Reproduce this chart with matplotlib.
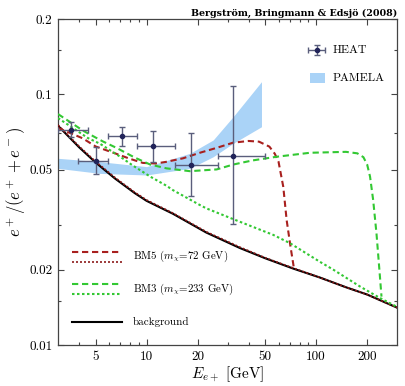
import numpy as np
import matplotlib
matplotlib.use("Agg")
import matplotlib.pyplot as plt
from matplotlib.ticker import FixedLocator, FixedFormatter, NullFormatter

plt.rcParams['font.family'] = ['cmr10', 'DejaVu Serif']
plt.rcParams['mathtext.fontset'] = 'cm'
plt.rcParams['axes.unicode_minus'] = False

# fond (background)
bg_x = [3, 4, 5, 6.5, 8.5, 10, 14.3, 22.5, 35.4, 50, 73, 105, 150, 200, 300]
bg_y = [0.0750, 0.0615, 0.0535, 0.0462, 0.0404, 0.0376, 0.0334, 0.0281, 0.0244,
        0.0222, 0.0202, 0.0186, 0.0170, 0.0159, 0.0141]

# BM5 (m_chi = 72 GeV)
bm5d_x = [3, 4.2, 5, 6.6, 8, 9.5, 11.3, 13, 16.4, 20.6, 25.9, 32.4, 40, 46, 53,
          57, 60, 64, 67, 70.6, 74]
bm5d_y = [0.0735, 0.0668, 0.0620, 0.0580, 0.0553, 0.0533, 0.0530, 0.0538, 0.0556,
          0.0585, 0.0612, 0.0642, 0.0652, 0.0648, 0.0619, 0.0580, 0.0539, 0.0428,
          0.0315, 0.0247, 0.0202]
bm5p_x = [3, 4, 5, 6.5, 8.5, 10, 14.3, 22.5, 35.4, 50, 73, 105, 150, 200, 300]
bm5p_y = [0.0755, 0.0620, 0.0540, 0.0466, 0.0407, 0.0379, 0.0336, 0.0283, 0.0246,
          0.0223, 0.0203, 0.0186, 0.0170, 0.0159, 0.0141]

# BM3 (m_chi = 233 GeV)
bm3d_x = [3, 4.24, 5.5, 6.64, 8.5, 10.5, 13.1, 18, 25.9, 32.4, 42, 58.4, 92, 150,
          175, 190, 200, 208, 217, 227, 238, 243]
bm3d_y = [0.0835, 0.0715, 0.0650, 0.0612, 0.0560, 0.0525, 0.0507, 0.0494, 0.0502,
          0.0525, 0.0545, 0.0564, 0.0585, 0.0590, 0.0582, 0.0562, 0.0525, 0.0470,
          0.0379, 0.0279, 0.0187, 0.0156]
bm3p_x = [3, 4.5, 5.3, 7.1, 8.3, 9.1, 10.5, 13.1, 14.3, 20.6, 22.5, 32.4, 55.9, 70,
          105, 126, 182, 238, 300]
bm3p_y = [0.0805, 0.0670, 0.0636, 0.0560, 0.0520, 0.0500, 0.0470, 0.0432, 0.0415,
          0.0362, 0.0351, 0.0318, 0.0275, 0.0255, 0.0215, 0.0200, 0.0171, 0.0154,
          0.0142]

# HEAT
heat_x = [3.6, 5.05, 7.2, 10.9, 18.2, 32.3]
heat_y = [0.0723, 0.0542, 0.0682, 0.0622, 0.0523, 0.0569]
heat_xlo = [3.0, 3.95, 5.93, 8.8, 14.7, 26.4]
heat_xhi = [4.5, 5.93, 8.8, 14.7, 26.4, 49.8]
heat_ylo = [0.0674, 0.0481, 0.0622, 0.0539, 0.0392, 0.0303]
heat_yhi = [0.0774, 0.0619, 0.0743, 0.0714, 0.0699, 0.1080]

# PAMELA
pam_x = [3.0, 5.3, 10, 18, 24.7, 32.4, 47.6]
pam_lo = [0.0507, 0.0484, 0.0477, 0.0507, 0.0564, 0.0638, 0.0743]
pam_hi = [0.0556, 0.0539, 0.0515, 0.0582, 0.0658, 0.0815, 0.1124]

rouge = '#a8201e'
rouge_f = '#8c1a1a'
vert = '#33c833'
bleu = '#aad3f7'
gris = '#5a5e7c'

fig = plt.figure(figsize=(4.05, 3.86), dpi=100)
ax = fig.add_axes([58/405, 41/386, 339/405, 326/386])

ax.fill_between(pam_x, pam_lo, pam_hi, color=bleu, lw=0, zorder=1)

hx = np.array(heat_x); hy = np.array(heat_y)
xerr = [hx - np.array(heat_xlo), np.array(heat_xhi) - hx]
yerr = [hy - np.array(heat_ylo), np.array(heat_yhi) - hy]
ax.errorbar(hx, hy, xerr=xerr, yerr=yerr, fmt='o', ms=3, color='#22245a',
            ecolor=gris, elinewidth=1, capsize=2.5, capthick=1, zorder=5)

ax.plot(bg_x, bg_y, color='black', lw=1.5, zorder=3)
ax.plot(bm5p_x, bm5p_y, color=rouge_f, lw=1.2, dashes=(1.2, 1.2), zorder=4)
ax.plot(bm5d_x, bm5d_y, color=rouge, lw=1.5, dashes=(3, 1.8), zorder=4)
ax.plot(bm3p_x, bm3p_y, color=vert, lw=1.5, dashes=(1.2, 1.2), zorder=4)
ax.plot(bm3d_x, bm3d_y, color=vert, lw=1.5, dashes=(3, 1.8), zorder=4)

ax.set_xscale('log')
ax.set_yscale('log')
ax.set_xlim(3, 300)
ax.set_ylim(0.01, 0.2)

ax.xaxis.set_major_locator(FixedLocator([5, 10, 20, 50, 100, 200]))
ax.xaxis.set_major_formatter(FixedFormatter(['5', '10', '20', '50', '100', '200']))
ax.xaxis.set_minor_locator(FixedLocator([4, 6, 7, 8, 9, 30, 40, 60, 70, 80, 90]))
ax.xaxis.set_minor_formatter(NullFormatter())
ax.yaxis.set_major_locator(FixedLocator([0.01, 0.02, 0.05, 0.1, 0.2]))
ax.yaxis.set_major_formatter(FixedFormatter(['0.01', '0.02', '0.05', '0.1', '0.2']))
ax.yaxis.set_minor_locator(FixedLocator([0.015, 0.03, 0.07, 0.15]))
ax.yaxis.set_minor_formatter(NullFormatter())

ax.tick_params(which='both', direction='in', top=True, right=True, color='#444444',
               labelsize=9.5, pad=4)
ax.tick_params(which='major', length=4.5, width=0.8)
ax.tick_params(which='minor', length=2.5, width=0.8)
for s in ax.spines.values():
    s.set_color('#444444')
    s.set_linewidth(0.9)

ax.set_xlabel(r'$E_{e+}$ [GeV]', fontsize=11, labelpad=1)
ax.set_ylabel(r'$e^+/(e^+ + e^-)$', fontsize=12, labelpad=1)

fig.text(397/405, 370/386, 'Bergström, Bringmann & Edsjö (2008)', ha='right',
         va='baseline', fontsize=6.8, family='DejaVu Serif', weight='bold')

# légende en bas à gauche
T = ax.transAxes
ax.plot([0.041, 0.188], [0.286, 0.286], color=rouge, lw=1.5, dashes=(3, 1.8), transform=T)
ax.plot([0.041, 0.188], [0.2555, 0.2555], color=rouge_f, lw=1.2, dashes=(1.2, 1.2), transform=T)
ax.text(0.221, 0.271, r'BM5 ($m_\chi$=72 GeV)', transform=T, va='center', fontsize=7.8)
ax.plot([0.041, 0.188], [0.187, 0.187], color=vert, lw=1.5, dashes=(3, 1.8), transform=T)
ax.plot([0.041, 0.188], [0.1555, 0.1555], color=vert, lw=1.5, dashes=(1.2, 1.2), transform=T)
ax.text(0.221, 0.171, r'BM3 ($m_\chi$=233 GeV)', transform=T, va='center', fontsize=7.8)
ax.plot([0.041, 0.188], [0.0696, 0.0696], color='black', lw=1.5, transform=T)
ax.text(0.221, 0.0696, 'background', transform=T, va='center', fontsize=8)

# légende en haut à droite
ax.errorbar([0.763], [0.905], xerr=[0.0245], yerr=[0.016], fmt='o', ms=3,
            color='#22245a', ecolor=gris, elinewidth=1, capsize=2.5, transform=T)
ax.fill_between([0.7434, 0.7876], [0.804, 0.804], [0.834, 0.834], color=bleu,
                lw=0, transform=T)
ax.text(0.811, 0.905, 'HEAT', transform=T, va='center', fontsize=8.5)
ax.text(0.811, 0.819, 'PAMELA', transform=T, va='center', fontsize=8.5)

fig.savefig('out.png', dpi=100)
